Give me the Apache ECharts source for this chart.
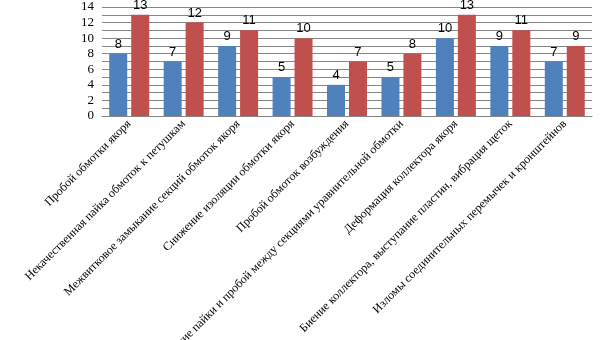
<!DOCTYPE html>
<html><head><meta charset="utf-8">
<script src="https://cdn.jsdelivr.net/npm/echarts@6/dist/echarts.min.js"></script>
<style>html,body{margin:0;padding:0;background:#fff}#c{width:605px;height:340px}</style>
</head><body><div id="c"></div>
<script>
const categories = [
  "Пробой обмотки якоря",
  "Некачественная пайка обмоток к петушкам",
  "Межвитковое замыкание секций обмоток якоря",
  "Снижение изоляции обмотки якоря",
  "Пробой обмоток возбуждения",
  "Нарушение пайки и пробой между секциями уравнительной обмотки",
  "Деформация коллектора якоря",
  "Биение коллектора, выступание пластин, вибрация щеток",
  "Изломы соединительных перемычек и кронштейнов"
];
const seriesBlue = [8, 7, 9, 5, 4, 5, 10, 9, 7];
const seriesRed = [13, 12, 11, 10, 7, 8, 13, 11, 9];
const yTicks = [0, 2, 4, 6, 8, 10, 12, 14];

const chart = echarts.init(document.getElementById('c'), null, {renderer: 'canvas'});
const lbl = {show: true, position: 'top', distance: 3, color: '#000', fontFamily: 'Liberation Sans', fontSize: 13};
chart.setOption({
  animation: false,
  grid: {left: 102, right: 13, top: 7, bottom: 224, containLabel: false, outerBoundsMode: 'none'},
  xAxis: {
    type: 'category', data: categories,
    axisLine: {lineStyle: {color: '#868686'}},
    axisTick: {show: false},
    axisLabel: {rotate: 45, interval: 0, color: '#000', fontFamily: 'Liberation Serif', fontSize: 12, margin: 6, hideOverlap: false}
  },
  yAxis: {
    type: 'value', min: 0, max: 14, interval: 1,
    axisLine: {show: false},
    axisTick: {show: false},
    axisLabel: {color: '#000', fontFamily: 'Liberation Serif', fontSize: 13, margin: 8,
      formatter: v => yTicks.indexOf(v) >= 0 ? String(v) : ''},
    splitLine: {lineStyle: {color: '#868686', width: 1}}
  },
  series: [
    {type: 'bar', data: seriesBlue, barWidth: 18, barGap: '22%', itemStyle: {color: '#4F81BD'}, label: lbl},
    {type: 'bar', data: seriesRed, barWidth: 18, itemStyle: {color: '#C0504D'}, label: lbl}
  ]
});
</script></body></html>
